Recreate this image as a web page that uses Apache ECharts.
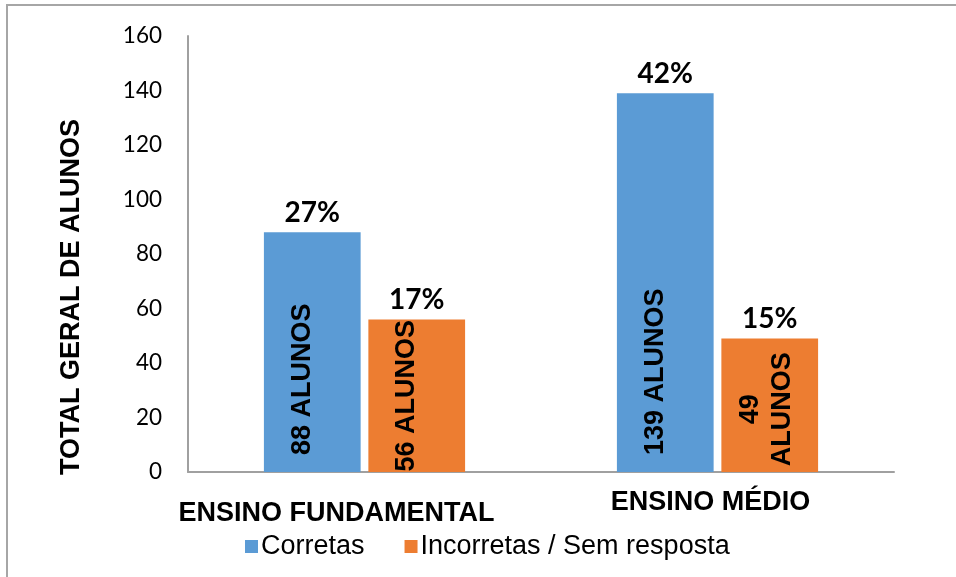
<!DOCTYPE html>
<html><head><meta charset="utf-8">
<script src="https://cdn.jsdelivr.net/npm/echarts@6/dist/echarts.min.js"></script>
<style>html,body{margin:0;padding:0;background:#fff}#c{width:956px;height:577px}</style>
</head><body><div id="c"></div>
<script>
const categories = ['ENSINO FUNDAMENTAL', 'ENSINO MÉDIO'];
const seriesNames = ['Corretas', 'Incorretas / Sem resposta'];
const corretas = [88, 139];
const incorretas = [56, 49];
const pctCorretas = ['27%', '42%'];
const pctIncorretas = ['17%', '15%'];
const innerCorretas = ['88 ALUNOS', '139 ALUNOS'];
const innerIncorretas = ['56 ALUNOS', '49\nALUNOS'];
const yTicks = [0, 20, 40, 60, 80, 100, 120, 140, 160];

const ARIAL = '"Liberation Sans", Arial, sans-serif';
const CAL = 'Lato, "Open Sans", sans-serif';

function markFor(vals, pcts) {
  return {
    symbol: 'rect', symbolSize: 1, itemStyle: { color: 'rgba(0,0,0,0)' },
    label: { show: true, position: 'top', distance: 5, color: '#000', fontFamily: CAL, fontWeight: 'bold', fontSize: 28,
      formatter: p => p.name },
    data: vals.map((v, i) => ({ name: pcts[i], coord: [i, v] }))
  };
}

const chart = echarts.init(document.getElementById('c'), null, { renderer: 'canvas' });
chart.setOption({
  animation: false,
  backgroundColor: '#fff',
  graphic: [{ type: 'rect', silent: true, shape: { x: 7, y: 5, width: 1000, height: 700 },
    style: { fill: 'none', stroke: '#a6a6a6', lineWidth: 2 } }],
  grid: { left: 188, right: 62, top: 36, bottom: 105, containLabel: false },
  legend: {
    data: seriesNames, left: 240, top: 528, icon: 'rect', itemWidth: 13, itemHeight: 13, itemGap: 40,
    textStyle: { fontFamily: ARIAL, fontSize: 27, color: '#000', padding: [0, 0, 0, -2] }
  },
  xAxis: {
    type: 'category', data: categories,
    axisLine: { lineStyle: { color: '#a0a0a0', width: 2 } },
    axisTick: { show: false },
    axisLabel: {
      margin: 14, interval: 0,
      formatter: (v, i) => i === 0 ? '{a|' + v + '}' : '{b|' + v + '}',
      rich: {
        a: { fontFamily: ARIAL, fontWeight: 'bold', fontSize: 27, color: '#000', padding: [14, 56, 0, 0] },
        b: { fontFamily: ARIAL, fontWeight: 'bold', fontSize: 27, color: '#000', padding: [3, 14, 0, 0] }
      }
    }
  },
  yAxis: {
    type: 'value', min: yTicks[0], max: yTicks[yTicks.length - 1], interval: 20,
    name: 'TOTAL GERAL DE ALUNOS', nameLocation: 'middle', nameGap: 103,
    nameTextStyle: { fontFamily: ARIAL, fontWeight: 'bold', fontSize: 27, color: '#000', padding: [0, 86, 0, 0] },
    axisLine: { show: true, lineStyle: { color: '#a0a0a0', width: 2 } },
    axisTick: { show: false },
    splitLine: { show: false },
    axisLabel: { margin: 26, fontFamily: CAL, fontSize: 22.5, color: '#000' }
  },
  series: [
    {
      name: seriesNames[0], type: 'bar', barWidth: '27.4%', barGap: '8%',
      itemStyle: { color: '#5b9bd5' },
      data: corretas.slice(),
      label: { show: true, position: 'insideBottom', rotate: 90, align: 'left', verticalAlign: 'middle', distance: 17,
        offset: [0, -10], fontFamily: ARIAL, fontWeight: 'bold', fontSize: 27, color: '#000',
        formatter: p => innerCorretas[p.dataIndex] },
      markPoint: markFor(corretas, pctCorretas)
    },
    {
      name: seriesNames[1], type: 'bar', barWidth: '27.4%', barGap: '8%',
      itemStyle: { color: '#ed7d31' },
      data: incorretas.map((v, i) => ({ value: v, label: innerIncorretas[i].indexOf('\n') >= 0 ? { offset: [-4, -3] } : undefined })),
      label: { show: true, position: 'inside', rotate: 90, align: 'center', verticalAlign: 'middle',
        offset: [0, -10], fontFamily: ARIAL, fontWeight: 'bold', fontSize: 27, lineHeight: 32, color: '#000',
        formatter: p => innerIncorretas[p.dataIndex] },
      markPoint: markFor(incorretas, pctIncorretas)
    }
  ]
});
</script></body></html>
